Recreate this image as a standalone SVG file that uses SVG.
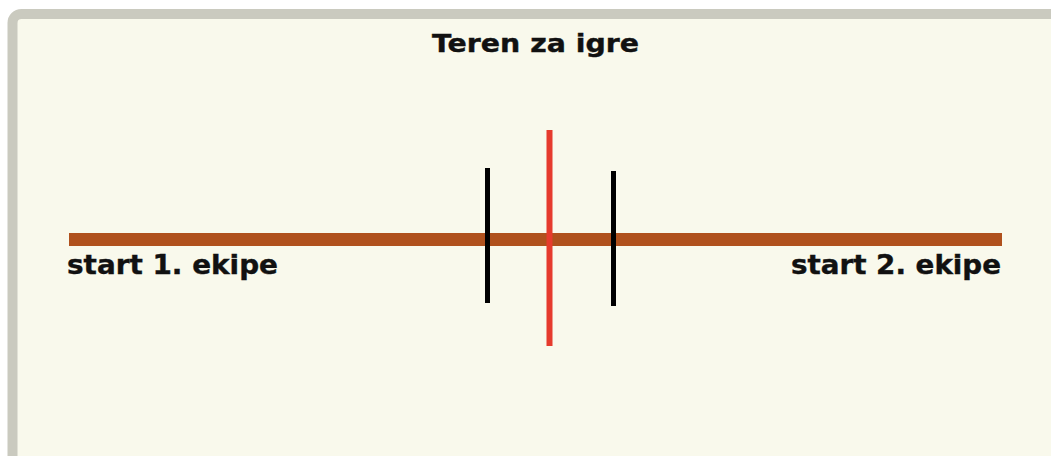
<svg xmlns="http://www.w3.org/2000/svg" width="1051" height="456" viewBox="0 0 1051 456">
<style>
  .lbl { font-family: "DejaVu Sans", Verdana, sans-serif; font-weight: bold; fill: #111; stroke: #111; stroke-width: 0.4; }
  .post { stroke: #000; stroke-width: 5; }
</style>
<rect x="0" y="0" width="1051" height="456" fill="#ffffff"/>
<rect id="frame" x="12.5" y="14" width="1060" height="470" rx="9" fill="#f9f9ec" stroke="#cacabf" stroke-width="10"/>
<text id="title" class="lbl" x="432" y="52" font-size="25.5" textLength="207" lengthAdjust="spacingAndGlyphs">Teren za igre</text>
<g id="connectors">
  <line id="field" x1="69" y1="239.5" x2="1002" y2="239.5" stroke="#b0511d" stroke-width="13"/>
  <line id="post-left" class="post" x1="487.5" y1="168" x2="487.5" y2="303"/>
  <line id="center-line" x1="549.5" y1="130" x2="549.5" y2="346" stroke="#e63b2d" stroke-width="6"/>
  <line id="post-right" class="post" x1="613.5" y1="171" x2="613.5" y2="306"/>
</g>
<g id="start1"><text class="lbl" x="67" y="273.5" font-size="26.5" textLength="211" lengthAdjust="spacingAndGlyphs">start 1. ekipe</text></g>
<g id="start2"><text class="lbl" x="791" y="273.5" font-size="26.5" textLength="210" lengthAdjust="spacingAndGlyphs">start 2. ekipe</text></g>
</svg>
